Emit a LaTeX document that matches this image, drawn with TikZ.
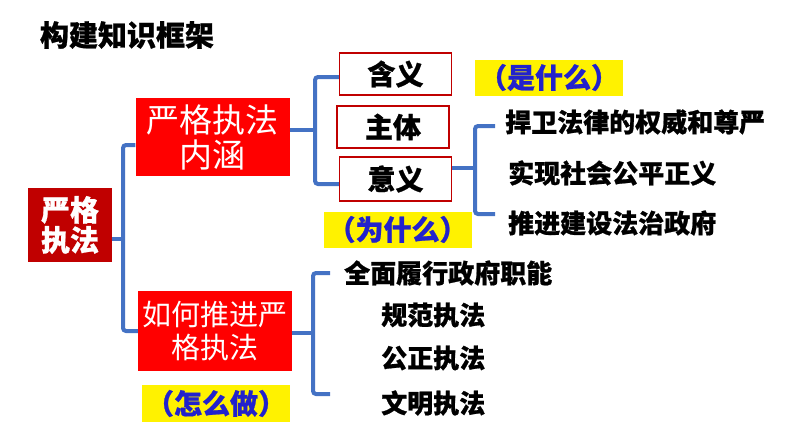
\documentclass[tikz,border=0pt]{standalone}
\usepackage{fontspec}
\newfontfamily\cjk{Noto Sans CJK SC}[BoldFeatures={FakeBold=0.8}]
\definecolor{darkred}{HTML}{C00000}
\definecolor{linkblue}{HTML}{4472C4}
\definecolor{askblue}{HTML}{2222CC}

\begin{document}
\begin{tikzpicture}[x=1pt,y=-1pt]
    \tikzstyle{every node}=[inner sep=0pt,align=center,font=\cjk\bfseries]
    \tikzstyle{root}=[fill=darkred,text=white,minimum width=84pt,minimum height=74pt,font=\cjk\bfseries\fontsize{29}{30}\selectfont]
    \tikzstyle{redbox}=[fill=red,text=white,minimum width=154pt]
    \tikzstyle{part}=[draw=darkred,line width=1.5pt,fill=white,minimum width=112pt,minimum height=42pt,font=\cjk\bfseries\fontsize{28}{30}\selectfont]
    \tikzstyle{ask}=[fill=yellow,text=askblue,minimum width=148pt,minimum height=36pt,font=\cjk\bfseries\fontsize{28}{30}\selectfont]
    \tikzstyle{point}=[anchor=west,font=\cjk\bfseries\fontsize{26}{28}\selectfont]
    \tikzstyle{link}=[draw=linkblue,line width=4pt,rounded corners=3pt]
    \useasboundingbox (0,0) rectangle (794,447);
    \node[font=\cjk\bfseries\fontsize{29}{30}\selectfont] (title) at (127,35) {构建知识框架};
    \node[root] (root) at (70,225) {严格\\执法};
    \node[redbox,minimum height=78pt,font=\cjk\fontsize{33}{35}\selectfont] (neihan) at (212.5,137) {严格执法\\内涵};
    \node[redbox,minimum height=80pt,font=\cjk\fontsize{29}{33}\selectfont] (ruhe) at (215,331) {如何推进严\\格执法};
    \node[part] (hanyi) at (395.5,74) {含义};
    \node[part] (zhuti) at (393,127) {主体};
    \node[part,minimum height=44pt] (yiyi) at (395.5,179) {意义};
    \node[ask] (shi) at (549,77.5) {（是什么）};
    \node[ask] (wei) at (397.5,229.5) {（为什么）};
    \node[ask,minimum height=37pt] (zen) at (216,403.5) {（怎么做）};
    \node[point] (p1) at (505,122) {捍卫法律的权威和尊严};
    \node[point] (p2) at (508,173) {实现社会公平正义};
    \node[point] (p3) at (508,223) {推进建设法治政府};
    \node[point] (q1) at (344,273) {全面履行政府职能};
    \node[point] (q2) at (381,315) {规范执法};
    \node[point] (q3) at (381,358) {公正执法};
    \node[point] (q4) at (381,403) {文明执法};
    % brackets
    \coordinate (b1) at (123,239);
    \coordinate (b2) at (315,130);
    \coordinate (b3) at (475,168);
    \coordinate (b4) at (313,333);
    \coordinate (t3) at (495,126);
    \coordinate (u3) at (495,214);
    \coordinate (t4) at (330,273);
    \coordinate (u4) at (330,394);
    \draw[link] (root.east|-b1) -- (b1);
    \draw[link] ([yshift=-8pt]neihan.west) -| (b1) |- (ruhe.west);
    \draw[link] (neihan.east|-b2) -- (b2);
    \draw[link] ([yshift=-3pt]hanyi.west) -| (b2) |- ([yshift=-5pt]yiyi.west);
    \draw[link] (yiyi.east|-b3) -- (b3);
    \draw[link] (t3) -| (b3) |- (u3);
    \draw[link] (ruhe.east|-b4) -- (b4);
    \draw[link] (t4) -| (b4) |- (u4);
\end{tikzpicture}
\end{document}
